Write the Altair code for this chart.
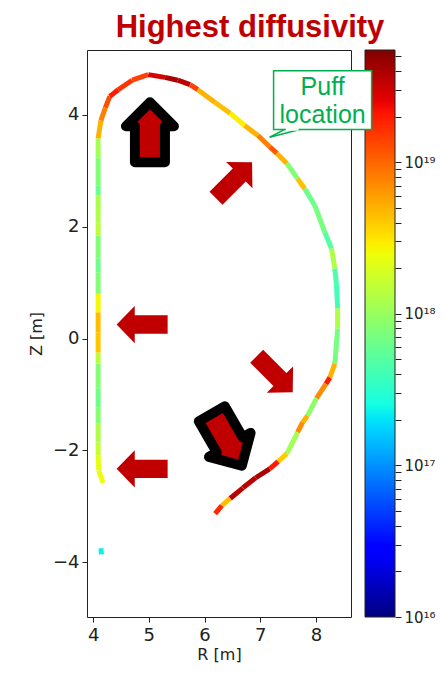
import altair as alt
import numpy as np
import pandas as pd

# ---------------- data ----------------
# wall contour vertices (clockwise from lower-left end)
wall_R = [4.18, 4.10, 4.09, 4.09, 4.09, 4.09, 4.09, 4.09, 4.09, 4.09,
          4.09, 4.09, 4.09, 4.09, 4.09, 4.09, 4.09, 4.09, 4.09, 4.09,
          4.14, 4.22, 4.30, 4.45, 4.70, 4.99, 5.29, 5.52, 5.74, 5.88,
          6.19, 6.46, 6.72, 6.96, 7.17, 7.30, 7.48, 7.67, 7.80, 7.98,
          8.16, 8.28, 8.34, 8.37, 8.39, 8.39, 8.34, 8.25, 8.18, 8.01,
          7.85, 7.76, 7.67, 7.48, 7.32, 7.17, 6.92, 6.69, 6.46, 6.31,
          6.19]
wall_Z = [-2.58, -2.36, -2.09, -1.86, -1.52, -1.23, -0.89, -0.45, -0.25, 0.11,
          0.47, 0.80, 1.18, 1.43, 1.84, 2.08, 2.56, 2.74, 3.24, 3.58,
          3.90, 4.13, 4.33, 4.45, 4.62, 4.72, 4.67, 4.62, 4.54, 4.45,
          4.22, 4.03, 3.81, 3.63, 3.43, 3.31, 3.13, 2.86, 2.68, 2.38,
          1.90, 1.61, 1.25, 0.95, 0.54, 0.18, -0.45, -0.70, -0.81, -1.07,
          -1.38, -1.50, -1.68, -2.06, -2.20, -2.33, -2.49, -2.67, -2.86, -2.99,
          -3.13]
# log10 of diffusivity on each wall segment
seg_log10 = [18.40, 18.35, 18.20, 18.10, 17.92, 17.82, 17.90, 18.15, 18.62, 18.65,
             18.42, 17.90, 17.80, 17.90, 18.15, 18.10, 17.80, 17.89, 18.05, 18.70,
             18.90, 19.10, 19.30, 19.20, 19.15, 19.45, 19.60, 19.55, 19.15, 18.70,
             18.65, 18.45, 18.70, 18.90, 19.05, 18.70, 17.90, 18.65, 17.80, 17.85,
             17.70, 18.10, 17.65, 17.60, 18.10, 17.85, 18.70, 19.30, 18.85, 17.95,
             18.70, 18.85, 18.05, 18.60, 19.30, 19.60, 19.55, 19.55, 18.65, 19.25]
# small isolated fragment low on the inner wall
frag_R = [4.14, 4.15]
frag_Z = [-3.75, -3.86]
frag_log10 = [17.35]

# plain arrows
arrow_R = [4.88, 4.88, 6.53, 7.26]
arrow_Z = [0.25, -2.33, 2.83, -0.64]
arrow_angle = [270, 270, 45, 135]
# outlined arrows
outl_R = [5.02, 6.40]
outl_Z = [3.69, -1.81]
outl_angle = [0, 150]

# "Puff location" callout
box_R = [7.24, 9.00]
box_Z = [3.74, 4.79]
ptr_tip = [7.17, 3.60]
ptr_base_R = [7.44, 7.71]
callout_lines = ["Puff", "location"]
callout_text_R = [8.12, 8.12]
callout_text_Z = [4.36, 3.85]

x_ticks = [4, 5, 6, 7, 8]
y_ticks = [-4, -2, 0, 2, 4]
R_domain = [3.89, 8.63]
Z_domain = [-4.98, 5.16]
cbar_min_log, cbar_max_log = 16.0, 19.74

# jet colormap breakpoints
jet_t = [0, 0.11, 0.125, 0.34, 0.35, 0.375, 0.64, 0.65, 0.66, 0.89, 0.91, 1.0]
jet_colors = ["#000080", "#0000ff", "#0000ff", "#00dbff", "#00e6f7", "#15ffe2",
              "#eeff08", "#f7f500", "#ffec00", "#ff1300", "#e80000", "#800000"]

# ---------------- tables ----------------
rows = []
for i, lv in enumerate(seg_log10):
    rows.append(dict(R0=wall_R[i], Z0=wall_Z[i], R1=wall_R[i + 1], Z1=wall_Z[i + 1], D=10 ** lv))
for i, lv in enumerate(frag_log10):
    rows.append(dict(R0=frag_R[i], Z0=frag_Z[i], R1=frag_R[i + 1], Z1=frag_Z[i + 1], D=10 ** lv))
seg_df = pd.DataFrame(rows)

arrow_df = pd.DataFrame({"R": arrow_R, "Z": arrow_Z, "angle": arrow_angle})
outl_df = pd.DataFrame({"R": outl_R, "Z": outl_Z, "angle": outl_angle})

steps = np.linspace(cbar_min_log, cbar_max_log, 241)
cb_df = pd.DataFrame({
    "lo": 10 ** steps[:-1],
    "hi": 10 ** np.minimum(steps[1:] + 0.01, cbar_max_log),
    "D": 10 ** ((steps[:-1] + steps[1:]) / 2),
})

box_df = pd.DataFrame({"R0": [box_R[0]], "R1": [box_R[1]], "Z0": [box_Z[0]], "Z1": [box_Z[1]]})
ptr_df = pd.DataFrame({"R0": [ptr_tip[0], ptr_tip[0]], "Z0": [ptr_tip[1], ptr_tip[1]],
                       "R1": ptr_base_R, "Z1": [box_Z[0], box_Z[0]]})
cover_df = pd.DataFrame({"R0": [ptr_base_R[0] + 0.02], "R1": [ptr_base_R[1] - 0.02], "Z0": [box_Z[0]]})
txt_df = pd.DataFrame({"R": callout_text_R, "Z": callout_text_Z, "t": callout_lines})

# ---------------- scales / axes ----------------
W, H = 264, 567
xsc = alt.Scale(domain=R_domain, nice=False, zero=False)
ysc = alt.Scale(domain=Z_domain, nice=False, zero=False)
cdom = [10 ** (cbar_min_log + t * (cbar_max_log - cbar_min_log)) for t in jet_t]
csc = alt.Scale(type="log", domain=cdom, range=jet_colors, interpolate="rgb")

xaxis = alt.Axis(values=x_ticks, title="R [m]", format="d", tickSize=5, labelPadding=4,
                 titlePadding=2, domain=False, grid=False)
yaxis = alt.Axis(values=y_ticks, title="Z [m]", format="d", tickSize=5, labelPadding=3,
                 titlePadding=8, domain=False, grid=False)

cb_ticks = [k * 10.0 ** n for n in range(16, 20) for k in range(1, 10) if k * 10.0 ** n <= 10 ** cbar_max_log]
label_expr = ("abs(datum.value/1e16-1)<1e-6 ? '10\u00b9\u2076' : "
              "abs(datum.value/1e17-1)<1e-6 ? '10\u00b9\u2077' : "
              "abs(datum.value/1e18-1)<1e-6 ? '10\u00b9\u2078' : "
              "abs(datum.value/1e19-1)<1e-6 ? '10\u00b9\u2079' : ''")
cbaxis = alt.Axis(orient="right", offset=44, values=cb_ticks, labelExpr=label_expr, tickSize=6,
                  labelPadding=3, domain=False, grid=False, title=None, labelFontSize=15)
cbsc = alt.Scale(type="log", domain=[10 ** cbar_min_log, 10 ** cbar_max_log], nice=False)

# arrow shapes (pointing up, unit square)
PATH_A = "M0,-1 L0.73,-0.29 L0.36,-0.29 L0.36,1 L-0.36,1 L-0.36,-0.29 L-0.73,-0.29 Z"
PATH_B = "M0,-1 L0.8,-0.2 L0.5,-0.2 L0.5,1 L-0.5,1 L-0.5,-0.2 L-0.8,-0.2 Z"
RED = "#C00000"
GREEN = "#00B050"

# ---------------- layers ----------------
walls = alt.Chart(seg_df).mark_rule(strokeWidth=5, strokeCap="butt").encode(
    x=alt.X("R0:Q", scale=xsc, axis=xaxis),
    y=alt.Y("Z0:Q", scale=ysc, axis=yaxis),
    x2="R1:Q", y2="Z1:Q",
    color=alt.Color("D:Q", scale=csc, legend=None),
)

arrows = alt.Chart(arrow_df).mark_point(shape=PATH_A, size=2601, filled=True, color=RED,
                                        opacity=1, strokeWidth=0).encode(
    x=alt.X("R:Q", scale=xsc, axis=xaxis),
    y=alt.Y("Z:Q", scale=ysc, axis=yaxis),
    angle=alt.Angle("angle:Q", scale=None),
)

outl = alt.Chart(outl_df).mark_point(shape=PATH_B, size=3600, filled=True, fill=RED,
                                      stroke="black", strokeWidth=10, strokeJoin="round",
                                      opacity=1).encode(
    x=alt.X("R:Q", scale=xsc, axis=xaxis),
    y=alt.Y("Z:Q", scale=ysc, axis=yaxis),
    angle=alt.Angle("angle:Q", scale=None),
)

main = alt.layer(walls, arrows, outl)

bar = alt.Chart(cb_df).mark_rect(strokeWidth=0).encode(
    x=alt.value(278), x2=alt.value(308),
    y=alt.Y("lo:Q", scale=cbsc, axis=cbaxis), y2="hi:Q",
    color=alt.Color("D:Q", scale=csc, legend=None),
)
bar_frame = alt.Chart(pd.DataFrame({"a": [0]})).mark_rect(
    fillOpacity=0, stroke="#222222", strokeWidth=1).encode(
    x=alt.value(278), x2=alt.value(308), y=alt.value(0), y2=alt.value(H))
cbar = alt.layer(bar, bar_frame)

ysc2 = alt.Scale(domain=Z_domain, nice=False, zero=False)
box = alt.Chart(box_df).mark_rect(fill="white", stroke=GREEN, strokeWidth=1.5).encode(
    x=alt.X("R0:Q", scale=xsc, axis=xaxis), x2="R1:Q",
    y=alt.Y("Z0:Q", scale=ysc2, axis=None), y2="Z1:Q")
ptr = alt.Chart(ptr_df).mark_rule(color=GREEN, strokeWidth=1.5).encode(
    x=alt.X("R0:Q", scale=xsc, axis=xaxis), x2="R1:Q",
    y=alt.Y("Z0:Q", scale=ysc2, axis=None), y2="Z1:Q")
cover = alt.Chart(cover_df).mark_rule(color="white", strokeWidth=2.5).encode(
    x=alt.X("R0:Q", scale=xsc, axis=xaxis), x2="R1:Q",
    y=alt.Y("Z0:Q", scale=ysc2, axis=None))
txt = alt.Chart(txt_df).mark_text(font="Liberation Sans", fontSize=25, color=GREEN,
                                  align="center", baseline="alphabetic").encode(
    x=alt.X("R:Q", scale=xsc, axis=xaxis),
    y=alt.Y("Z:Q", scale=ysc2, axis=None),
    text="t:N")
callout = alt.layer(box, ptr, cover, txt)

chart = alt.layer(main, cbar, callout).resolve_scale(y="independent").properties(
    width=W, height=H,
    autosize=alt.AutoSizeParams(type="none"),
    padding={"left": 79, "top": 42, "right": 86, "bottom": 50},
    title=alt.Title(text="Highest diffusivity", font="Liberation Sans", fontSize=31,
                    fontWeight="bold", color=RED, anchor="middle", frame="group",
                    dx=31, offset=-18, baseline="alphabetic"),
).configure_view(stroke="#222222", strokeWidth=1).configure_axis(
    labelFont="DejaVu Sans", labelFontSize=18, titleFont="DejaVu Sans", titleFontSize=16,
    titleFontWeight="normal", labelColor="#222222", titleColor="#222222", tickColor="#222222",
)

chart.save("out.html", embed_options={"renderer": "svg", "actions": False})
